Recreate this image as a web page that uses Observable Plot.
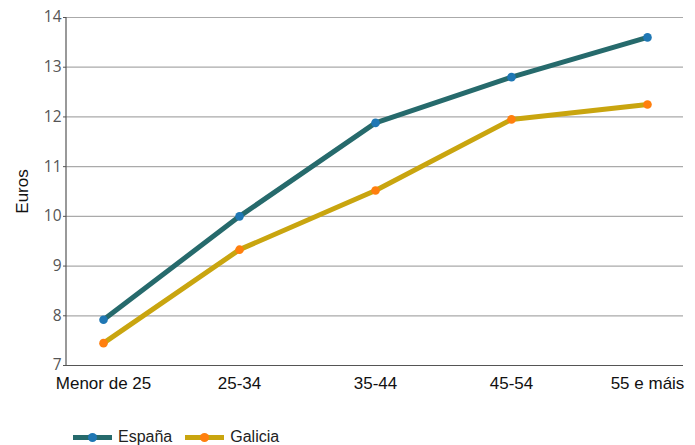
<!DOCTYPE html>
<html>
<head>
<meta charset="utf-8">
<script src="https://cdn.jsdelivr.net/npm/d3@7"></script>
<script src="https://cdn.jsdelivr.net/npm/@observablehq/plot@0.6"></script>
<style>
  body { margin: 0; background: #fff; }
  #legend { display: flex; align-items: center; height: 16px; font-family: "Liberation Sans", Arial, sans-serif; font-size: 16px; color: #222; margin-left: 73px; margin-top: 29px; }
  .item { display: flex; align-items: center; margin-right: 13px; }
  .sw { position: relative; width: 39px; height: 5px; margin-right: 6px; }
  .sw span { position: absolute; left: 15px; top: -2px; width: 9px; height: 9px; border-radius: 50%; }
</style>
</head>
<body>
<div id="chart"></div>
<div id="legend"></div>
<script>
const categories = ["Menor de 25", "25-34", "35-44", "45-54", "55 e máis"];
const espana = [7.92, 10.0, 11.88, 12.8, 13.6];
const galicia = [7.45, 9.33, 10.52, 11.95, 12.25];
const yTicks = [7, 8, 9, 10, 11, 12, 13, 14];
const seriesNames = ["España", "Galicia"];
const lineColors = ["#266a6c", "#c9a50f"];
const dotColors = ["#1f77b4", "#ff7f0e"];

const rows = [];
categories.forEach((c, i) => {
  rows.push({cat: c, value: espana[i], serie: seriesNames[0]});
  rows.push({cat: c, value: galicia[i], serie: seriesNames[1]});
});

const leftLine = (index, scales, values, dims) => {
  const g = d3.create("svg:line")
    .attr("x1", dims.marginLeft).attr("x2", dims.marginLeft)
    .attr("y1", dims.marginTop).attr("y2", dims.height - dims.marginBottom)
    .attr("stroke", "#555").attr("stroke-width", 1.2);
  return g.node();
};

const chart = Plot.plot({
  width: 695,
  height: 400,
  marginLeft: 66,
  marginRight: 12,
  marginTop: 17,
  marginBottom: 35,
  style: {fontFamily: "'Liberation Sans', Arial, sans-serif", background: "#fff", fontSize: "17px"},
  x: {type: "point", domain: categories, padding: 0.264, axis: null},
  y: {domain: [7, 14], axis: null},
  color: {domain: seriesNames, range: lineColors},
  marks: [
    Plot.ruleY(yTicks.filter(d => d > 7), {stroke: "#aaa", strokeWidth: 1.2, strokeOpacity: 1}),
    Plot.ruleY([7], {stroke: "#555", strokeWidth: 1.2}),
    leftLine,
    Plot.axisY(yTicks, {tickSize: 3, tickPadding: 2, tickFormat: "d", fill: "#555", stroke: "#555", label: null}),
    Plot.text(["Euros"], {frameAnchor: "left", dx: -44, rotate: -90, fill: "#111", textAnchor: "middle"}),
    Plot.axisX({tickSize: 0, tickPadding: 11, fill: "#111", label: null}),
    Plot.line(rows, {x: "cat", y: "value", z: "serie", stroke: d => d.serie, strokeWidth: 5, strokeLinejoin: "round"}),
    Plot.dot(rows, {x: "cat", y: "value", r: 4.3, fill: d => dotColors[seriesNames.indexOf(d.serie)], stroke: "none"})
  ]
});
document.getElementById("chart").appendChild(chart);
const yTickStr = yTicks.map(String);
d3.select(chart).selectAll("text").each(function() {
  const t = this.textContent.trim();
  if (yTickStr.includes(t)) {
    this.style.fontSize = "15.5px";
    this.style.fontFamily = "'Open Sans', sans-serif";
    this.style.fill = "#555";
  } else if (categories.includes(t)) {
    this.style.fontSize = "17px";
    this.style.fill = "#111";
  } else {
    this.style.fontSize = "17px";
    this.style.fill = "#111";
  }
});

const legend = document.getElementById("legend");
seriesNames.forEach((s, i) => {
  const it = document.createElement("div");
  it.className = "item";
  it.innerHTML = `<div class="sw" style="background:${lineColors[i]}"><span style="background:${dotColors[i]}"></span></div>${s}`;
  legend.appendChild(it);
});
</script>
</body>
</html>
